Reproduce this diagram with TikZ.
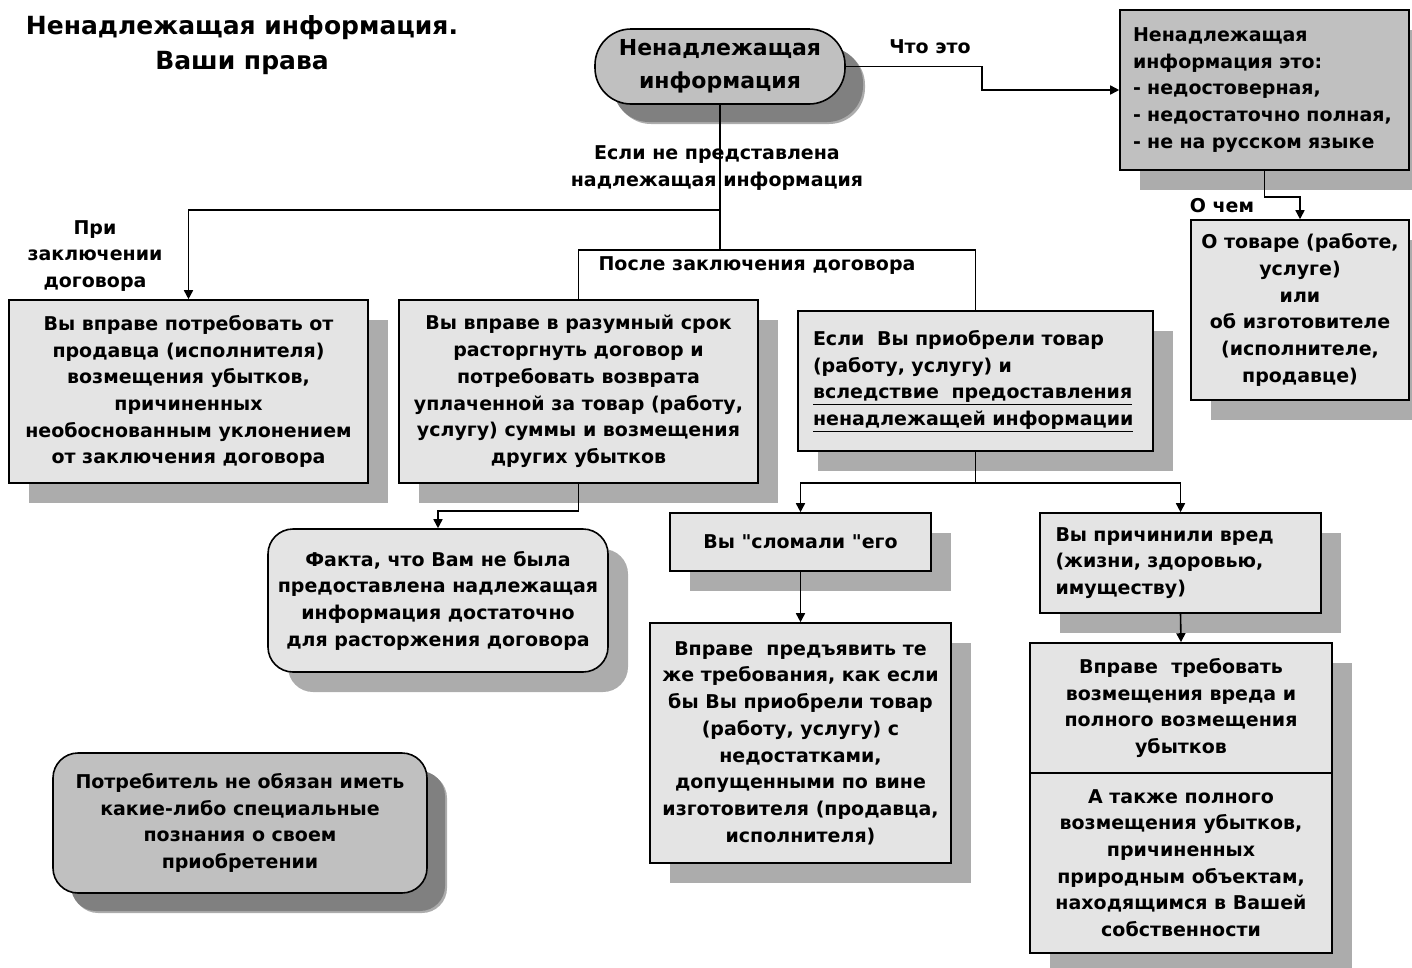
\documentclass[tikz,border=0pt]{standalone}
\usepackage{fontspec}
\setmainfont{DejaVu Sans}[Ligatures=TeXOff]
\usetikzlibrary{arrows.meta,shadows}
\definecolor{light}{RGB}{228,228,228}
\definecolor{dark}{RGB}{192,192,192}
\definecolor{shade}{RGB}{172,172,172}
\definecolor{deepshade}{RGB}{128,128,128}

\begin{document}
\begin{tikzpicture}
[x=1pt,y=-1pt,
 every node/.style={font=\bfseries\fontsize{19}{26.7}\selectfont},
 card/.style={rectangle,draw=black,line width=1.6pt,fill=light,inner sep=0pt,align=center,
   drop shadow={shadow xshift=20pt,shadow yshift=-20pt,fill=shade,opacity=1}},
 graycard/.style={card,fill=dark,drop shadow={shadow xshift=18pt,shadow yshift=-18pt,fill=deepshade,opacity=1}},
 lab/.style={draw=none,inner sep=1pt,align=center},
 link/.style={line width=1.6pt},
 arr/.style={link,-{Triangle[length=9pt,width=9pt]}}]
\useasboundingbox (0,0) rectangle (1412,967);

\node[lab,font=\bfseries\fontsize{25}{35}\selectfont] (title) at (242,45.5) {Ненадлежащая информация.\\Ваши права};

% top
\node[graycard,rounded corners=36pt,minimum width=250pt,minimum height=75pt,
      font=\bfseries\fontsize{22}{33}\selectfont] (info) at (720,66.5) {Ненадлежащая\\информация};
\node[card,fill=dark,minimum width=289pt,minimum height=160pt,text width=263pt,align=left] (what) at (1264.5,90)
  {Ненадлежащая\\информация это:\\- недостоверная,\\- недостаточно полная,\\- не на русском языке};
\node[card,minimum width=218pt,minimum height=180pt] (about) at (1300,310)
  {О товаре (работе,\\услуге)\\или\\об изготовителе\\(исполнителе,\\продавце)};

% second row
\node[card,minimum width=359pt,minimum height=183pt] (conclude) at (188.5,391.5)
  {Вы вправе потребовать от\\продавца (исполнителя)\\возмещения убытков,\\причиненных\\необоснованным уклонением\\от заключения договора};
\node[card,minimum width=359pt,minimum height=183pt] (cancel) at (578.5,391.5)
  {Вы вправе в разумный срок\\расторгнуть договор и\\потребовать возврата\\уплаченной за товар (работу,\\услугу) суммы и возмещения\\других убытков};
\node[card,minimum width=355pt,minimum height=140pt,text width=325pt,align=left] (bought) at (975.5,381)
  {Если\ \ Вы приобрели товар\\(работу, услугу) и\\\underline{вследствие\ \ предоставления}\\\underline{ненадлежащей информации}};

% lower part
\node[card,rounded corners=25pt,minimum width=340pt,minimum height=143pt] (fact) at (438,600.5)
  {Факта, что Вам не была\\предоставлена надлежащая\\информация достаточно\\для расторжения договора};
\node[card,minimum width=261pt,minimum height=58pt] (broke) at (800.5,542) {Вы "сломали "его};
\node[card,minimum width=301pt,minimum height=240pt] (same) at (800.5,743)
  {Вправе\ \ предъявить те\\же требования, как если\\бы Вы приобрели товар\\(работу, услугу) с\\недостатками,\\допущенными по вине\\изготовителя (продавца,\\исполнителя)};
\node[card,minimum width=281pt,minimum height=100pt,text width=250pt,align=left] (harm) at (1180.5,563)
  {Вы причинили вред\\(жизни, здоровью,\\имуществу)};
\node[card,minimum width=302pt,minimum height=130pt] (claim) at (1181,708)
  {Вправе\ \ требовать\\возмещения вреда и\\полного возмещения\\убытков};
\node[card,minimum width=302pt,minimum height=180pt] (claimmore) at (1181,863)
  {А также полного\\возмещения убытков,\\причиненных\\природным объектам,\\находящимся в Вашей\\собственности};
\node[graycard,rounded corners=25pt,minimum width=374pt,minimum height=140pt] (buyer) at (240,823)
  {Потребитель не обязан иметь\\какие-либо специальные\\познания о своем\\приобретении};

% connectors
\coordinate (split1) at (720,210);
\coordinate (split2) at (720,250);
\draw[arr] (info.east) -- ++(136,0) |- (what.west);
\draw[arr] (what.south) -- ++(0,26) -| (about.north);
\draw[link] (info.south) -- (split2);
\draw[arr] (split1) -| (conclude.north);
\draw[link] (split2) -| (cancel.north);
\draw[link] (split2) -| (bought.north);
\draw[arr] (cancel.south) -- ++(0,27) -| (fact.north);
\draw[arr] (bought.south) -- ++(0,31) -| (broke.north);
\draw[arr] (bought.south) -- ++(0,31) -| (harm.north);
\draw[arr] (broke.south) -- (same.north);
\draw[arr] (harm.south) -- (claim.north);

% labels
\node[lab] (whatlab) at (930,47) {Что это};
\node[lab] (aboutlab) at (1222,206) {О чем};
\node[lab] (whenlab) at (95,256) {При\\заключении\\договора};
\node[lab] (iflab) at (717,168) {Если не представлена\\надлежащая информация};
\node[lab] (afterlab) at (757,266) {После заключения договора};
\end{tikzpicture}
\end{document}
